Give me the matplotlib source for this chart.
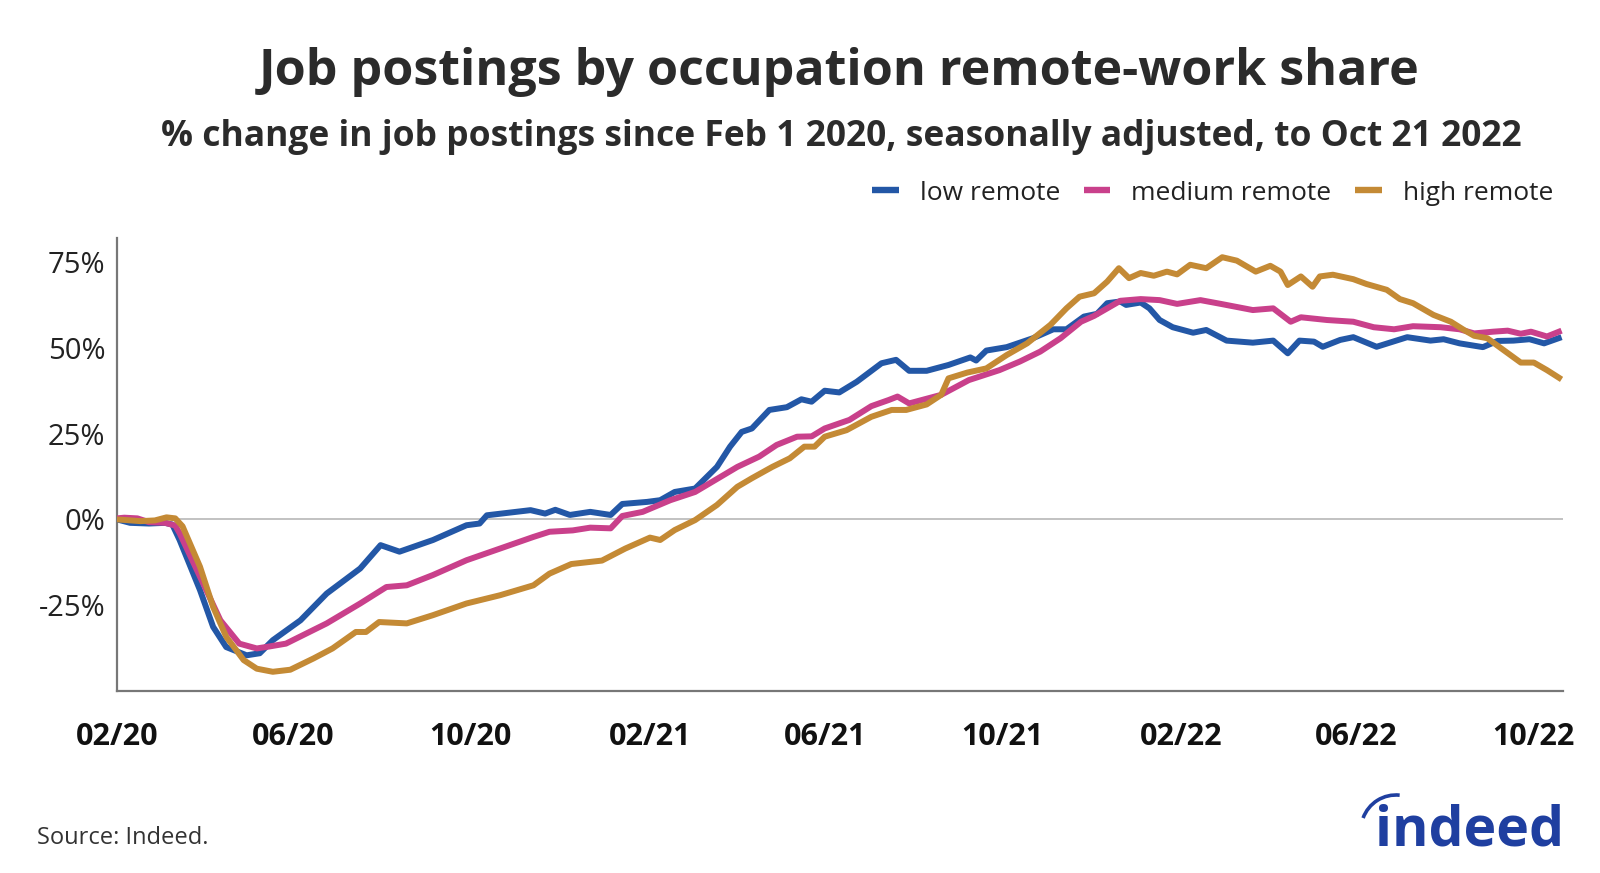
import numpy as np
import pandas as pd
import matplotlib
matplotlib.use('Agg')
import matplotlib.pyplot as plt
import matplotlib.dates as mdates
from matplotlib.patches import Arc
from matplotlib.lines import Line2D

plt.rcParams['font.family'] = ['Open Sans', 'DejaVu Sans']

# ---------------- data (days since 2020-02-01, % change) ----------------
start = pd.Timestamp('2020-02-01')
end = pd.Timestamp('2022-10-21')

low_days = [0, 9, 22, 33, 38, 43, 57, 66, 75, 89, 98, 107, 126, 144, 167, 181, 194, 217,
            240, 249, 254, 284, 294, 301, 311, 325, 339, 347, 364, 373, 383, 397, 412, 421,
            429, 436, 448, 460, 470, 477, 486, 496, 508, 525, 535, 544, 556, 571, 586, 590,
            597, 611, 629, 643, 652, 664, 673, 680, 689, 693, 703, 709, 716, 725, 739, 748,
            762, 780, 794, 804, 812, 822, 828, 840, 849, 865, 886, 902, 911, 922, 938, 948,
            959, 970, 980, 992]
low_vals = [0.0, -1.0, -1.2, -1.0, -1.5, -6.0, -20.6, -31.3, -37.2, -39.6, -39.0, -35.2, -29.4,
            -21.6, -14.3, -7.5, -9.4, -6.0, -1.7, -1.2, 1.2, 2.7, 1.7, 2.8, 1.3, 2.2, 1.3, 4.5,
            5.1, 5.6, 8.0, 9.0, 15.3, 21.2, 25.5, 26.5, 31.9, 32.7, 35.0, 34.3, 37.5, 37.0, 40.1,
            45.5, 46.5, 43.3, 43.3, 45.0, 47.2, 46.3, 49.2, 50.2, 52.8, 55.4, 55.4, 59.1, 59.9,
            63.0, 63.5, 62.5, 63.2, 61.5, 58.1, 56.0, 54.4, 55.2, 52.1, 51.5, 52.1, 48.4, 52.1,
            51.8, 50.3, 52.3, 53.1, 50.3, 53.1, 52.1, 52.5, 51.3, 50.2, 52.0, 52.1, 52.5, 51.3,
            53.1]

medium_days = [0, 5, 14, 22, 33, 40, 43, 57, 71, 84, 96, 105, 116, 144, 167, 185, 199, 217,
               240, 263, 286, 297, 313, 325, 339, 347, 361, 380, 397, 426, 441, 453, 467, 477,
               486, 503, 518, 530, 536, 544, 566, 585, 606, 620, 634, 648, 662, 671, 680, 689,
               703, 716, 728, 744, 758, 780, 794, 806, 813, 831, 849, 863, 877, 890, 909, 922,
               932, 945, 955, 964, 971, 982, 992]
medium_vals = [0.3, 0.5, 0.3, -0.8, -1.0, -1.8, -4.0, -16.7, -29.4, -36.2, -37.6, -37.0, -36.2,
               -30.3, -24.5, -19.7, -19.2, -16.2, -11.9, -8.5, -5.1, -3.6, -3.2, -2.4, -2.6, 1.0,
               2.2, 5.6, 8.0, 15.3, 18.3, 21.7, 24.1, 24.2, 26.5, 29.0, 33.0, 34.8, 35.8, 33.8,
               36.3, 40.6, 43.5, 46.0, 48.9, 52.8, 57.6, 59.3, 61.5, 63.7, 64.2, 63.9, 62.8, 63.9,
               62.8, 61.0, 61.5, 57.6, 58.9, 58.1, 57.6, 56.0, 55.4, 56.3, 56.0, 55.4, 54.2, 54.7,
               55.0, 54.1, 54.7, 53.3, 55.0]

high_days = [0, 16, 26, 34, 40, 45, 57, 66, 75, 87, 96, 107, 119, 135, 148, 164, 171, 180, 199,
             217, 240, 263, 286, 297, 312, 333, 349, 366, 373, 383, 397, 412, 426, 436, 450, 462,
             472, 479, 486, 501, 518, 532, 542, 556, 566, 571, 584, 597, 611, 625, 641, 652, 661,
             671, 680, 688, 695, 703, 712, 721, 728, 737, 748, 759, 769, 782, 792, 799, 804, 813,
             821, 826, 835, 849, 858, 872, 881, 890, 904, 916, 925, 932, 941, 952, 964, 973, 982,
             992]
high_vals = [0.0, -0.5, -0.3, 0.6, 0.3, -2.0, -13.8, -25.5, -34.2, -41.0, -43.5, -44.4, -43.8,
             -40.5, -37.6, -32.8, -32.8, -29.9, -30.3, -27.9, -24.5, -22.1, -19.2, -15.8, -13.0,
             -12.0, -8.5, -5.3, -6.0, -3.1, -0.2, 4.2, 9.5, 12.0, 15.3, 17.8, 21.2, 21.2, 24.1,
             26.0, 29.9, 31.9, 31.9, 33.5, 36.3, 41.1, 42.8, 44.0, 47.9, 51.3, 56.7, 61.5, 64.9,
             65.9, 69.3, 73.2, 70.3, 71.8, 71.0, 72.2, 71.4, 74.2, 73.2, 76.4, 75.4, 72.2, 73.9,
             72.2, 68.3, 70.8, 67.8, 70.8, 71.3, 70.0, 68.6, 66.9, 64.2, 63.0, 59.6, 57.6, 55.2,
             53.5, 52.8, 49.4, 45.7, 45.7, 43.5, 40.8]

series_names = ['low remote', 'medium remote', 'high remote']
series_colors = ['#2357a6', '#c9408b', '#c48a35']

x_tick_dates = ['2020-02-01', '2020-06-01', '2020-10-01', '2021-02-01', '2021-06-01',
                '2021-10-01', '2022-02-01', '2022-06-01', '2022-10-01']
y_ticks = [-25, 0, 25, 50, 75]

title = 'Job postings by occupation remote-work share'
subtitle = '% change in job postings since Feb 1 2020, seasonally adjusted, to Oct 21 2022'
source = 'Source: Indeed.'

# ---------------- figure ----------------
W, H = 1600, 873
fig = plt.figure(figsize=(W / 100, H / 100), dpi=100)
fig.patch.set_facecolor('white')

ax = fig.add_axes([117 / W, 1 - 691 / H, 1446 / W, 453 / H])

ax.axhline(0, color='#bdbdbd', lw=1.3, zorder=1)

handles = []
for days, vals, name, color in zip([low_days, medium_days, high_days],
                                   [low_vals, medium_vals, high_vals],
                                   series_names, series_colors):
    x = start + pd.to_timedelta(np.array(days), unit='D')
    ax.plot(x, vals, color=color, lw=4.3, solid_joinstyle='round',
            solid_capstyle='butt', zorder=3)
    handles.append(Line2D([0], [0], color=color, lw=4.6, solid_capstyle='butt', label=name))

ax.set_xlim(start, end)
ax.set_ylim(-50, 82)

ax.set_xticks(pd.to_datetime(x_tick_dates))
ax.xaxis.set_major_formatter(mdates.DateFormatter('%m/%y'))
ax.set_yticks(y_ticks)
ax.set_yticklabels([f'{v}%' for v in y_ticks])

ax.tick_params(axis='x', length=0, pad=22, labelsize=22, labelcolor='#111111')
ax.tick_params(axis='y', length=0, pad=8.5, labelsize=21, labelcolor='#222222')
for lab in ax.get_xticklabels():
    lab.set_fontweight('bold')

for side in ['top', 'right']:
    ax.spines[side].set_visible(False)
for side in ['left', 'bottom']:
    ax.spines[side].set_color('#777777')
    ax.spines[side].set_linewidth(1.6)

# titles
fig.text(839 / W, 1 - 85 / H, title, ha='center', va='baseline', fontsize=36.2,
         fontweight='bold', color='#2b2b2b')
fig.text(841 / W, 1 - 146 / H, subtitle, ha='center', va='baseline', fontsize=25.5,
         fontweight='bold', color='#2b2b2b')

# legend
fig.legend(handles=handles, loc='center right', bbox_to_anchor=(1553 / W, 1 - 193 / H),
           ncol=3, frameon=False, fontsize=19, handlelength=1.0, handletextpad=0.8,
           columnspacing=0.9, borderaxespad=0, borderpad=0, labelcolor='#222222')

# source
fig.text(37 / W, 1 - 844 / H, source, ha='left', va='baseline', fontsize=17, color='#333333')

# indeed logo
lax = fig.add_axes([0, 0, 1, 1], facecolor='none')
lax.set_xlim(0, W)
lax.set_ylim(H, 0)
lax.axis('off')
lax.text(1375, 845, 'indeed', ha='left', va='baseline', fontsize=40, fontweight='bold',
         color='#1f3fa0')
lax.add_patch(Arc((1396, 830), 70, 70, theta1=200, theta2=276, color='#1f3fa0', lw=2.6))

fig.savefig('out.png', dpi=100, facecolor='white')
